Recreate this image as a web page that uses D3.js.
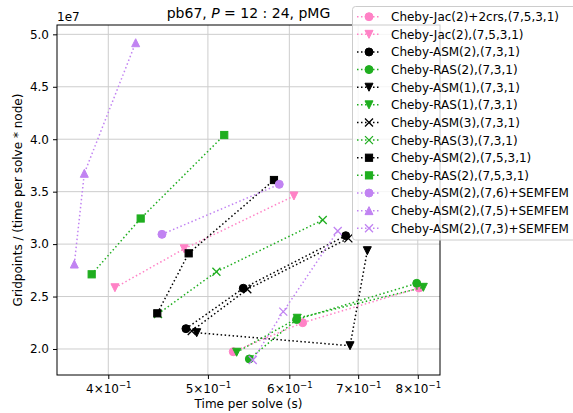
<!DOCTYPE html>
<html>
<head>
<meta charset="utf-8">
<script src="https://cdn.jsdelivr.net/npm/d3@7"></script>
<style>
  body { margin: 0; background: #fff; }
  text { font-family: "DejaVu Sans", sans-serif; fill: #000; }
</style>
</head>
<body>
<svg id="chart" width="573" height="413"></svg>
<script>
const seriesNames = [
  'Cheby-Jac(2)+2crs,(7,5,3,1)',
  'Cheby-Jac(2),(7,5,3,1)',
  'Cheby-ASM(2),(7,3,1)',
  'Cheby-RAS(2),(7,3,1)',
  'Cheby-ASM(1),(7,3,1)',
  'Cheby-RAS(1),(7,3,1)',
  'Cheby-ASM(3),(7,3,1)',
  'Cheby-RAS(3),(7,3,1)',
  'Cheby-ASM(2),(7,5,3,1)',
  'Cheby-RAS(2),(7,5,3,1)',
  'Cheby-ASM(2),(7,6)+SEMFEM',
  'Cheby-ASM(2),(7,5)+SEMFEM',
  'Cheby-ASM(2),(7,3)+SEMFEM',
];

// time per solve (s)
const seriesTimes = [
  [0.5292, 0.6182, 0.8022],
  [0.4060, 0.4741, 0.6062],
  [0.4760, 0.5412, 0.6808],
  [0.5486, 0.6099, 0.7981],
  [0.4876, 0.6874, 0.7145],
  [0.5332, 0.6107, 0.8100],
  [0.4822, 0.5461, 0.6848],
  [0.4471, 0.5096, 0.6466],
  [0.4464, 0.4789, 0.5797],
  [0.3854, 0.4301, 0.5186],
  [0.4511, 0.5866],
  [0.3707, 0.3791, 0.4253],
  [0.5528, 0.5919, 0.6687],
];

// gridpoints / (time per solve * node)
const seriesRates = [
  [1.974e7, 2.251e7, 2.582e7],
  [2.584e7, 2.955e7, 3.459e7],
  [2.194e7, 2.579e7, 3.080e7],
  [1.905e7, 2.281e7, 2.626e7],
  [2.155e7, 2.031e7, 2.937e7],
  [1.969e7, 2.293e7, 2.588e7],
  [2.172e7, 2.569e7, 3.055e7],
  [2.334e7, 2.737e7, 3.230e7],
  [2.340e7, 2.912e7, 3.611e7],
  [2.712e7, 3.244e7, 4.040e7],
  [3.093e7, 3.570e7],
  [2.810e7, 3.675e7, 4.920e7],
  [1.895e7, 2.356e7, 3.125e7],
];

const pink = '#ff82c6';
const green = '#1fae1f';
const purple = '#c183f2';
const black = '#000000';
const seriesColors = [pink, pink, black, green, black, green, black, green, black, green, purple, purple, purple];
const seriesMarkers = ['circle', 'tridown', 'circle', 'circle', 'tridown', 'tridown', 'x', 'x', 'square', 'square', 'circle', 'triup', 'x'];

const xTicks = [0.4, 0.5, 0.6, 0.7, 0.8];
const yTicks = [2.0e7, 2.5e7, 3.0e7, 3.5e7, 4.0e7, 4.5e7, 5.0e7];

const svg = d3.select('#chart');
const plot = { left: 57, right: 440, top: 25, bottom: 375 };

const x = d3.scaleLog().domain([0.3566, 0.8408]).range([plot.left, plot.right]);
const y = d3.scaleLinear().domain([1.752e7, 5.089e7]).range([plot.bottom, plot.top]);

// grid
const grid = svg.append('g');
xTicks.forEach((t) => {
  grid.append('line')
    .attr('x1', x(t)).attr('x2', x(t))
    .attr('y1', plot.top).attr('y2', plot.bottom)
    .attr('stroke', '#cdcdcd').attr('stroke-width', 1);
});
yTicks.forEach((t) => {
  grid.append('line')
    .attr('x1', plot.left).attr('x2', plot.right)
    .attr('y1', y(t)).attr('y2', y(t))
    .attr('stroke', '#cdcdcd').attr('stroke-width', 1);
});

// axes
const xAxis = svg.append('g')
  .attr('transform', `translate(0,${plot.bottom})`)
  .call(d3.axisBottom(x).tickValues(xTicks).tickSize(4).tickPadding(4).tickFormat(() => ''));
xAxis.select('.domain').remove();
xAxis.selectAll('.tick text').each(function (d) {
  const t = d3.select(this).attr('font-size', 12).attr('font-family', '"DejaVu Sans", sans-serif').attr('dy', '0.82em');
  t.append('tspan').text(`${Math.round(d * 10)}\u00d710`);
  t.append('tspan').attr('dy', -5).attr('font-size', 8.5).text('\u22121');
});

const yAxis = svg.append('g')
  .attr('transform', `translate(${plot.left},0)`)
  .call(d3.axisLeft(y).tickValues(yTicks).tickSize(4).tickPadding(4).tickFormat((d) => (d / 1e7).toFixed(1)));
yAxis.select('.domain').remove();
yAxis.selectAll('.tick text').attr('font-size', 12).attr('font-family', '"DejaVu Sans", sans-serif');

svg.selectAll('.tick line').attr('stroke', '#000').attr('stroke-width', 1);

// frame
svg.append('rect')
  .attr('x', plot.left).attr('y', plot.top)
  .attr('width', plot.right - plot.left).attr('height', plot.bottom - plot.top)
  .attr('fill', 'none').attr('stroke', '#000').attr('stroke-width', 1);

function drawMarker(g, type, cx, cy, color) {
  const s = 4;
  if (type === 'circle') {
    g.append('circle').attr('cx', cx).attr('cy', cy).attr('r', s)
      .attr('fill', color).attr('stroke', color).attr('stroke-width', 1);
  } else if (type === 'square') {
    g.append('rect').attr('x', cx - 3.6).attr('y', cy - 3.6).attr('width', 7.2).attr('height', 7.2)
      .attr('fill', color).attr('stroke', color).attr('stroke-width', 1);
  } else if (type === 'triup') {
    g.append('path').attr('d', `M${cx},${cy - s}L${cx + s},${cy + s}L${cx - s},${cy + s}Z`)
      .attr('fill', color).attr('stroke', color).attr('stroke-width', 1);
  } else if (type === 'tridown') {
    g.append('path').attr('d', `M${cx},${cy + s}L${cx + s},${cy - s}L${cx - s},${cy - s}Z`)
      .attr('fill', color).attr('stroke', color).attr('stroke-width', 1);
  } else if (type === 'x') {
    g.append('path').attr('d', `M${cx - s},${cy - s}L${cx + s},${cy + s}M${cx - s},${cy + s}L${cx + s},${cy - s}`)
      .attr('fill', 'none').attr('stroke', color).attr('stroke-width', 1.3);
  }
}

// series
const line = d3.line().x((d) => x(d[0])).y((d) => y(d[1]));
seriesNames.forEach((name, i) => {
  const pts = seriesTimes[i].map((t, j) => [t, seriesRates[i][j]]);
  const g = svg.append('g').attr('class', 'series');
  g.append('path')
    .attr('d', line(pts))
    .attr('fill', 'none')
    .attr('stroke', seriesColors[i])
    .attr('stroke-width', 1.5)
    .attr('stroke-dasharray', '1.5,2.5');
  pts.forEach((p) => drawMarker(g, seriesMarkers[i], x(p[0]), y(p[1]), seriesColors[i]));
});

// offset text, title, labels
svg.append('text').attr('x', plot.left).attr('y', 21).attr('font-size', 12).text('1e7');

const title = svg.append('text')
  .attr('x', (plot.left + plot.right) / 2).attr('y', 18)
  .attr('text-anchor', 'middle').attr('font-size', 14);
title.append('tspan').text('pb67, ');
title.append('tspan').attr('font-style', 'italic').text('P');
title.append('tspan').text(' = 12 : 24, pMG');

svg.append('text')
  .attr('x', (plot.left + plot.right) / 2).attr('y', 408)
  .attr('text-anchor', 'middle').attr('font-size', 12)
  .text('Time per solve (s)');

svg.append('text')
  .attr('transform', `translate(22,${(plot.top + plot.bottom) / 2}) rotate(-90)`)
  .attr('text-anchor', 'middle').attr('font-size', 12)
  .text('Gridpoints / (time per solve * node)');

// legend
const legend = svg.append('g');
legend.append('rect')
  .attr('x', 352.5).attr('y', 6.5).attr('width', 240).attr('height', 233.5).attr('rx', 3)
  .attr('fill', '#fff').attr('fill-opacity', 0.8)
  .attr('stroke', '#cccccc').attr('stroke-width', 1);
seriesNames.forEach((name, i) => {
  const cy = 16.7 + i * 17.63;
  const g = legend.append('g');
  g.append('line')
    .attr('x1', 357).attr('x2', 381).attr('y1', cy).attr('y2', cy)
    .attr('stroke', seriesColors[i]).attr('stroke-width', 1.5)
    .attr('stroke-dasharray', '1.5,2.5');
  drawMarker(g, seriesMarkers[i], 369, cy, seriesColors[i]);
  g.append('text').attr('x', 391).attr('y', cy + 4.4).attr('font-size', 12).text(name);
});
</script>
</body>
</html>
